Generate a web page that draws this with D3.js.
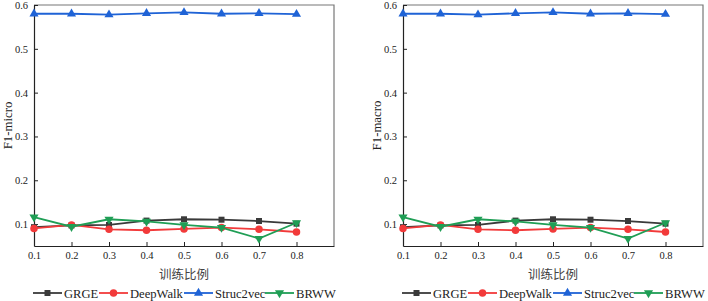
<!DOCTYPE html>
<html>
<head>
<meta charset="utf-8">
<script src="https://cdn.jsdelivr.net/npm/d3@7"></script>
<style>
  body { margin: 0; background: #fff; }
  svg { display: block; }
  .tick text { font-family: "Liberation Serif", "Times New Roman", serif; font-size: 10.5px; fill: #222; }
  .ylabel { font-family: "Liberation Serif", serif; font-size: 12.8px; fill: #222; }
  .xlabel { font-family: "Noto Sans CJK SC", sans-serif; font-size: 12.5px; fill: #444; }
  .legend text { font-family: "Liberation Serif", serif; font-size: 12.6px; fill: #222; }
</style>
</head>
<body>
<svg id="chart" width="708" height="301"></svg>
<script>

const ratios = [0.1, 0.2, 0.3, 0.4, 0.5, 0.6, 0.7, 0.8];
const yTicks = [0.1, 0.2, 0.3, 0.4, 0.5, 0.6];

// F1-micro
const microGRGE      = [0.093, 0.097, 0.098, 0.108, 0.111, 0.110, 0.107, 0.101];
const microDeepWalk  = [0.090, 0.098, 0.088, 0.086, 0.089, 0.092, 0.088, 0.082];
const microStruc2vec = [0.580, 0.580, 0.578, 0.581, 0.583, 0.580, 0.581, 0.579];
const microBRWW      = [0.116, 0.094, 0.111, 0.106, 0.098, 0.092, 0.067, 0.103];

// F1-macro
const macroGRGE      = [0.093, 0.097, 0.098, 0.108, 0.111, 0.110, 0.107, 0.101];
const macroDeepWalk  = [0.090, 0.098, 0.088, 0.086, 0.089, 0.092, 0.088, 0.082];
const macroStruc2vec = [0.580, 0.580, 0.578, 0.581, 0.583, 0.580, 0.581, 0.579];
const macroBRWW      = [0.116, 0.094, 0.111, 0.106, 0.098, 0.092, 0.067, 0.103];

const seriesNames = ["GRGE", "DeepWalk", "Struc2vec", "BRWW"];
const colors = ["#3a3a3a", "#f23a3a", "#1f63d6", "#1f9e55"];
const symbols = [d3.symbolSquare, d3.symbolCircle, d3.symbolTriangle, d3.symbolTriangle];
const symbolSize = [36, 44, 36, 36];

const svg = d3.select("#chart");

const dim = { width: 300, height: 241 };
const legendX = [-1, 65, 150, 231];

function marker(sel, k) {
    sel.attr("d", d3.symbol(symbols[k], symbolSize[k]))
        .attr("fill", colors[k]);
}

function drawPanel(left, title, values) {

    const g = svg.append("g").attr("transform", `translate(${ left }, 5)`);

    const x = d3.scaleLinear().domain([0.1, 0.9]).range([0, dim.width]);
    const y = d3.scaleLinear().domain([0.05, 0.6]).range([dim.height, 0]);

    // frame (top / right)
    g.append("path")
        .attr("d", `M0,0H${ dim.width }V${ dim.height }`)
        .attr("fill", "none")
        .attr("stroke", "#777")
        .attr("stroke-width", 1.2);

    const xAxis = d3.axisBottom(x)
        .tickValues(ratios)
        .tickFormat(d3.format(".1f"))
        .tickSizeInner(-4)
        .tickSizeOuter(0)
        .tickPadding(6);

    g.append("g")
        .attr("transform", `translate(0, ${ dim.height })`)
        .call(xAxis)
        .call(a => a.select(".domain").attr("stroke", "#222").attr("stroke-width", 1.2))
        .call(a => a.selectAll(".tick line").attr("stroke", "#222"));

    const yAxis = d3.axisLeft(y)
        .tickValues(yTicks)
        .tickFormat(d3.format(".1f"))
        .tickSizeInner(-4)
        .tickSizeOuter(0)
        .tickPadding(6);

    g.append("g")
        .call(yAxis)
        .call(a => a.select(".domain").attr("stroke", "#222").attr("stroke-width", 1.2))
        .call(a => a.selectAll(".tick line").attr("stroke", "#222"));

    g.append("text")
        .attr("class", "ylabel")
        .attr("text-anchor", "middle")
        .attr("transform", `translate(-22, ${ dim.height / 2 }) rotate(-90)`)
        .text(title);

    g.append("text")
        .attr("class", "xlabel")
        .attr("text-anchor", "middle")
        .attr("x", x(0.5))
        .attr("y", dim.height + 33)
        .text("训练比例");

    const line = d3.line()
        .x((d, i) => x(ratios[i]))
        .y(d => y(d));

    values.forEach((vals, k) => {
        g.append("path")
            .attr("d", line(vals))
            .attr("fill", "none")
            .attr("stroke", colors[k])
            .attr("stroke-width", 1.8);

        g.append("g")
            .selectAll("path")
            .data(vals)
            .join("path")
            .attr("transform", (d, i) => `translate(${ x(ratios[i]) }, ${ y(d) }) rotate(${ k === 3 ? 180 : 0 })`)
            .call(marker, k);
    });

    // legend
    const legend = g.append("g")
        .attr("class", "legend")
        .attr("transform", `translate(0, ${ dim.height + 47 })`);

    seriesNames.forEach((name, k) => {
        const item = legend.append("g").attr("transform", `translate(${ legendX[k] }, 0)`);
        item.append("line")
            .attr("x1", 0).attr("x2", 29)
            .attr("stroke", colors[k])
            .attr("stroke-width", 1.8);
        item.append("path")
            .attr("transform", `translate(14.5, 0) rotate(${ k === 3 ? 180 : 0 })`)
            .call(marker, k);
        item.append("text")
            .attr("x", 31)
            .attr("y", 4.5)
            .text(name);
    });
}

drawPanel(34, "F1-micro", [microGRGE, microDeepWalk, microStruc2vec, microBRWW]);
drawPanel(403, "F1-macro", [macroGRGE, macroDeepWalk, macroStruc2vec, macroBRWW]);

</script>
</body>
</html>
